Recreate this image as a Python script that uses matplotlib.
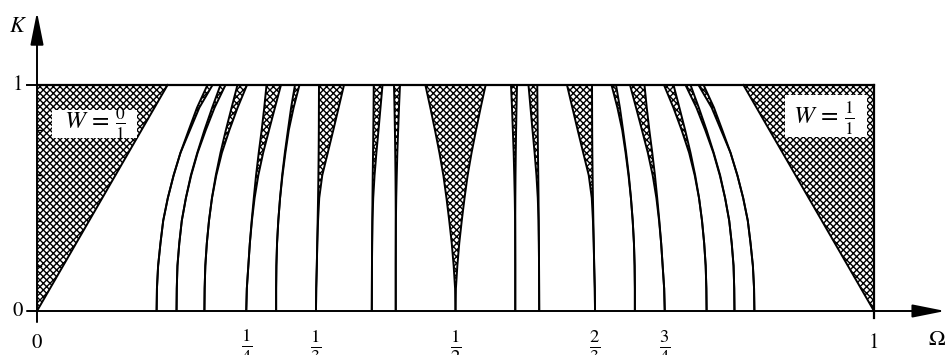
import matplotlib.pyplot as plt
from matplotlib.patches import Rectangle

plt.rcParams['mathtext.fontset'] = 'stix'
plt.rcParams['font.family'] = 'STIXGeneral'
plt.rcParams['hatch.linewidth'] = 1.0

# coupling strength levels at which the tongue edges are given
K_LEVELS = [0.0, 0.1, 0.2, 0.3, 0.4, 0.5, 0.6, 0.7, 0.8, 0.9, 1.0]

# edges of the 0/1 and 1/1 tongues (straight lines from K=0 to K=1)
EDGE_K = [0.0, 1.0]
EDGE_0_1 = [0.0, 0.156]
EDGE_1_1 = [1.0, 0.844]

# left / right edges (Omega) of the p/q locking tongues
left_1_7 = [0.1429, 0.1433, 0.1447, 0.1475, 0.1508, 0.1563, 0.1632, 0.1714, 0.1812, 0.1912, 0.2036]
right_1_7 = [0.1429, 0.1433, 0.1447, 0.1475, 0.1508, 0.1563, 0.1632, 0.1714, 0.1827, 0.1940, 0.2097]
left_1_6 = [0.1667, 0.1670, 0.1678, 0.1700, 0.1730, 0.1779, 0.1838, 0.1915, 0.2000, 0.2093, 0.2192]
right_1_6 = [0.1667, 0.1670, 0.1678, 0.1700, 0.1730, 0.1779, 0.1842, 0.1919, 0.2016, 0.2122, 0.2252]
left_1_5 = [0.2000, 0.2003, 0.2011, 0.2029, 0.2055, 0.2090, 0.2136, 0.2192, 0.2256, 0.2325, 0.2395]
right_1_5 = [0.2000, 0.2003, 0.2011, 0.2029, 0.2055, 0.2091, 0.2142, 0.2209, 0.2298, 0.2397, 0.2509]
left_1_4 = [0.2500, 0.2507, 0.2525, 0.2543, 0.2565, 0.2590, 0.2617, 0.2649, 0.2684, 0.2715, 0.2742]
right_1_4 = [0.2500, 0.2507, 0.2525, 0.2543, 0.2568, 0.2600, 0.2644, 0.2702, 0.2772, 0.2843, 0.2915]
left_2_7 = [0.2857, 0.2857, 0.2860, 0.2868, 0.2883, 0.2904, 0.2929, 0.2961, 0.2998, 0.3036, 0.3082]
right_2_7 = [0.2857, 0.2857, 0.2860, 0.2868, 0.2883, 0.2904, 0.2933, 0.2968, 0.3008, 0.3066, 0.3136]
left_1_3 = [0.3333, 0.3336, 0.3343, 0.3348, 0.3353, 0.3358, 0.3362, 0.3365, 0.3367, 0.3368, 0.3369]
right_1_3 = [0.3333, 0.3336, 0.3343, 0.3349, 0.3358, 0.3372, 0.3408, 0.3474, 0.3540, 0.3604, 0.3668]
left_2_5 = [0.4000, 0.4001, 0.4002, 0.4004, 0.4006, 0.4008, 0.4011, 0.4015, 0.4018, 0.4021, 0.4023]
right_2_5 = [0.4000, 0.4001, 0.4002, 0.4004, 0.4008, 0.4017, 0.4033, 0.4055, 0.4080, 0.4104, 0.4128]
left_3_7 = [0.4286, 0.4286, 0.4286, 0.4286, 0.4286, 0.4285, 0.4283, 0.4280, 0.4276, 0.4271, 0.4265]
right_3_7 = [0.4286, 0.4286, 0.4286, 0.4287, 0.4288, 0.4292, 0.4298, 0.4305, 0.4315, 0.4325, 0.4337]
left_1_2 = [0.5000, 0.4995, 0.4978, 0.4955, 0.4925, 0.4892, 0.4855, 0.4808, 0.4755, 0.4699, 0.4640]
right_1_2 = [0.5000, 0.5005, 0.5022, 0.5045, 0.5075, 0.5108, 0.5145, 0.5192, 0.5245, 0.5301, 0.5360]
left_4_7 = [0.5714, 0.5714, 0.5714, 0.5713, 0.5712, 0.5708, 0.5702, 0.5695, 0.5685, 0.5675, 0.5663]
right_4_7 = [0.5714, 0.5714, 0.5714, 0.5714, 0.5714, 0.5715, 0.5717, 0.5720, 0.5724, 0.5729, 0.5735]
left_3_5 = [0.6000, 0.5999, 0.5998, 0.5996, 0.5992, 0.5983, 0.5967, 0.5945, 0.5920, 0.5896, 0.5872]
right_3_5 = [0.6000, 0.5999, 0.5998, 0.5996, 0.5994, 0.5992, 0.5989, 0.5985, 0.5982, 0.5979, 0.5977]
left_2_3 = [0.6667, 0.6664, 0.6657, 0.6651, 0.6642, 0.6628, 0.6592, 0.6526, 0.6460, 0.6396, 0.6332]
right_2_3 = [0.6667, 0.6664, 0.6657, 0.6652, 0.6647, 0.6642, 0.6638, 0.6635, 0.6633, 0.6632, 0.6631]
left_5_7 = [0.7143, 0.7143, 0.7140, 0.7132, 0.7117, 0.7096, 0.7067, 0.7032, 0.6992, 0.6934, 0.6864]
right_5_7 = [0.7143, 0.7143, 0.7140, 0.7132, 0.7117, 0.7096, 0.7071, 0.7039, 0.7002, 0.6964, 0.6918]
left_3_4 = [0.7500, 0.7493, 0.7475, 0.7457, 0.7432, 0.7400, 0.7356, 0.7298, 0.7228, 0.7157, 0.7085]
right_3_4 = [0.7500, 0.7493, 0.7475, 0.7457, 0.7435, 0.7410, 0.7383, 0.7351, 0.7316, 0.7285, 0.7258]
left_4_5 = [0.8000, 0.7997, 0.7989, 0.7971, 0.7945, 0.7909, 0.7858, 0.7791, 0.7702, 0.7603, 0.7491]
right_4_5 = [0.8000, 0.7997, 0.7989, 0.7971, 0.7945, 0.7910, 0.7864, 0.7808, 0.7744, 0.7675, 0.7605]
left_5_6 = [0.8333, 0.8330, 0.8322, 0.8300, 0.8270, 0.8221, 0.8158, 0.8081, 0.7984, 0.7878, 0.7748]
right_5_6 = [0.8333, 0.8330, 0.8322, 0.8300, 0.8270, 0.8221, 0.8162, 0.8085, 0.8000, 0.7907, 0.7808]
left_6_7 = [0.8571, 0.8567, 0.8553, 0.8525, 0.8492, 0.8437, 0.8368, 0.8286, 0.8173, 0.8060, 0.7903]
right_6_7 = [0.8571, 0.8567, 0.8553, 0.8525, 0.8492, 0.8437, 0.8368, 0.8286, 0.8188, 0.8088, 0.7964]

X_TICKS = [0.0, 0.25, 1 / 3, 0.5, 2 / 3, 0.75, 1.0]
X_LABELS = ['0', r'$\frac{1}{4}$', r'$\frac{1}{3}$', r'$\frac{1}{2}$',
            r'$\frac{2}{3}$', r'$\frac{3}{4}$', '1']
Y_TICKS = [0.0, 1.0]
Y_LABELS = ['0', '1']
Y_MINOR = [0.2, 0.4, 0.6, 0.8]

tongues = [
    (left_1_7, right_1_7), (left_1_6, right_1_6), (left_1_5, right_1_5),
    (left_1_4, right_1_4), (left_2_7, right_2_7), (left_1_3, right_1_3),
    (left_2_5, right_2_5), (left_3_7, right_3_7), (left_1_2, right_1_2),
    (left_4_7, right_4_7), (left_3_5, right_3_5), (left_2_3, right_2_3),
    (left_5_7, right_5_7), (left_3_4, right_3_4), (left_4_5, right_4_5),
    (left_5_6, right_5_6), (left_6_7, right_6_7),
]

HATCH = 'xxxxx'
LW = 1.4

fig = plt.figure(figsize=(9.46, 3.55), dpi=100)
ax = fig.add_axes([0, 0, 1, 1])
ax.set_xlim(-37 / 837, 909 / 837)
ax.set_ylim(-44 / 226, 311 / 226)
ax.axis('off')

# W = 0/1 and W = 1/1 regions
ax.fill([EDGE_0_1[0], EDGE_0_1[1], 0.0], [0.0, 1.0, 1.0], facecolor='white',
        edgecolor='black', hatch=HATCH, linewidth=0)
ax.fill([EDGE_1_1[0], EDGE_1_1[1], 1.0], [0.0, 1.0, 1.0], facecolor='white',
        edgecolor='black', hatch=HATCH, linewidth=0)
ax.plot(EDGE_0_1, EDGE_K, color='black', lw=LW)
ax.plot(EDGE_1_1, EDGE_K, color='black', lw=LW)

for left, right in tongues:
    ax.fill_betweenx(K_LEVELS, left, right, facecolor='white', edgecolor='black',
                     hatch=HATCH, linewidth=0)
    ax.plot(left, K_LEVELS, color='black', lw=LW, solid_capstyle='butt')
    ax.plot(right, K_LEVELS, color='black', lw=LW, solid_capstyle='butt')

# frame: K = 1 line and Omega = 1 line
ax.plot([0, 1], [1, 1], color='black', lw=1.6)
ax.plot([1, 1], [-0.031, 1], color='black', lw=1.6)

# axes with arrows
arrow = dict(arrowstyle='-|>,head_length=1.0,head_width=0.2', lw=1.4,
             color='black', shrinkA=0, shrinkB=0, mutation_scale=20)
ax.annotate('', xy=(1.085, 0), xytext=(-0.012, 0), arrowprops=arrow)
ax.annotate('', xy=(0, 1.323), xytext=(0, -0.049), arrowprops=arrow)

# y ticks
ax.plot([-0.012, 0], [1, 1], color='black', lw=1.4)
for k in Y_MINOR:
    ax.plot([0, 0.005], [k, k], color='black', lw=1.0)

# labels
for x, lab in zip(X_TICKS, X_LABELS):
    if lab.startswith('$'):
        ax.text(x, -0.158, lab, ha='center', va='center', fontsize=19)
    else:
        ax.text(x, -0.14, lab, ha='center', va='center', fontsize=15)
for k, lab in zip(Y_TICKS, Y_LABELS):
    ax.text(-0.0233, k, lab, ha='center', va='center', fontsize=15)

ax.text(-0.0227, 1.257, r'$K$', ha='center', va='center', fontsize=16)
ax.text(1.0753, -0.128, r'$\Omega$', ha='center', va='center', fontsize=16)

# winding number boxes
ax.add_patch(Rectangle((0.0176, 0.764), 0.1015, 0.125, facecolor='white',
                       edgecolor='none', zorder=3))
ax.text(0.0687, 0.830, r'$W\,=\,\frac{0}{1}$', ha='center', va='center',
        fontsize=18, zorder=4)
ax.add_patch(Rectangle((0.8937, 0.771), 0.0976, 0.185, facecolor='white',
                       edgecolor='none', zorder=3))
ax.text(0.9403, 0.850, r'$W\,=\,\frac{1}{1}$', ha='center', va='center',
        fontsize=18, zorder=4)

fig.savefig('out.png', dpi=100)
